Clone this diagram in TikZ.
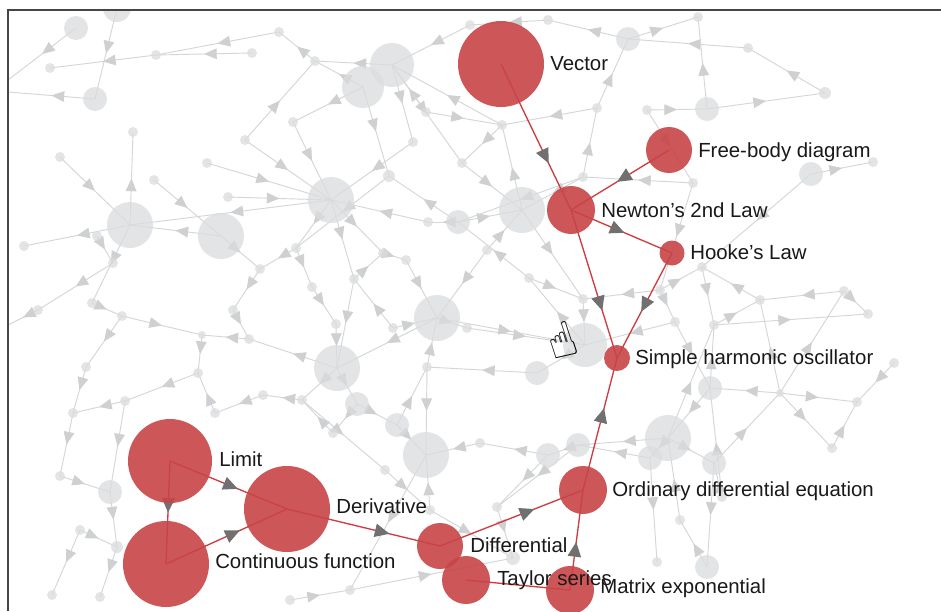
\documentclass[tikz,border=0pt]{standalone}
\usepackage{fontspec}
\setmainfont{Liberation Sans}
\newfontfamily\symfont{DejaVu Sans}
\usetikzlibrary{arrows.meta,decorations.markings}
\definecolor{rfill}{RGB}{200,68,72}
\definecolor{rline}{RGB}{206,60,64}
\definecolor{darr}{RGB}{112,112,112}
\definecolor{gline}{RGB}{212,214,216}
\definecolor{gfill}{RGB}{218,220,221}
\definecolor{garr}{RGB}{206,208,209}
\definecolor{txt}{RGB}{25,25,25}
\definecolor{framec}{RGB}{70,70,70}
\pgfdeclarelayer{gedges}\pgfdeclarelayer{gnodes}\pgfdeclarelayer{redges}
\pgfsetlayers{gedges,gnodes,redges,main}
\tikzset{
 gnode/.style={circle, fill=gfill, fill opacity=0.75, inner sep=0pt, draw=none},
 gedge/.style={draw=gline, line width=0.7pt, postaction={decorate},
   decoration={markings, mark=at position 0.5 with {\arrow{Triangle[length=9.5pt,width=8pt,color=garr]}}}},
 rnode/.style={circle, fill=rfill, fill opacity=0.9, inner sep=0pt, draw=none},
 redge/.style={draw=rline, line width=1pt},
 markat/.style={postaction={decorate},
   decoration={markings, mark=at position #1 with {\arrow{Triangle[length=11pt,width=10pt,color=darr]}}}},
 lbl/.style={anchor=base west, inner sep=0pt, text=txt, font=\fontsize{15.3pt}{18pt}\selectfont},
}
\begin{document}
\begin{tikzpicture}[x=0.75pt,y=-0.75pt]
\useasboundingbox (0,0) rectangle (941,611);
\begin{pgfonlayer}{gedges}
\fill[white] (0,0) rectangle (941,611);
\end{pgfonlayer}
% ---------- gray background network: nodes ----------
\begin{pgfonlayer}{gnodes}
\foreach \n/\x/\y/\r in {
 t1/76/28/12, t2/50/68/5, t3/95/99/12, t4/117/8/14, t5/156/55/5, t6/252/53/5, t7/279/32/5,
 t8/315/61/5, t9/133/132/5, t10/60/157/5, t11/245/140/5, t12/293/122/5, t13/207/163/5,
 t14/154/180/5, t15/228/197/5, t16/392/65/22, t17/363/87/21, t18/426/112/5, t19/413/142/5,
 t20/389/176/6, t21/462/163/5, t22/470/25/5, t23/331/200/23, t24/502/125/5, t25/548/20/5,
 t26/597/108/5, t27/647/110/5, t28/628/39/12, t29/698/17/5, t30/748/48/5, t31/707/109/12,
 t32/825/93/6, t33/811/174/12, t34/873/162/5, t35/693/183/5, t36/583/177/5, t37/522/210/23,
 t38/458/222/12, t39/428/222/5,
 m1/130/225/23, m2/221/236/23, m3/24/246/5, m4/97/236/5, m5/113/263/5, m6/38/310/5,
 m7/92/303/5, m8/122/316/5, m9/86/367/5, m10/125/401/5, m11/73/413/5, m12/198/373/5,
 m13/202/335/4, m14/249/339/5, m15/233/310/5, m16/260/269/5, m17/296/248/5, m18/312/287/5,
 m19/354/279/5, m20/383/253/5, m21/406/260/5, m22/336/324/5, m23/393/328/5, m24/437/318/23,
 m25/337/368/23, m26/357/404/12, m27/397/425/12, m28/302/400/5, m29/263/395/5, m30/215/413/5,
 m31/427/367/5, m32/467/328/5, m33/487/250/5, m34/529/278/5, m35/583/299/5, m36/585/345/22,
 m37/537/373/12, m38/426/455/23, m39/333/433/5,
 r1/660/290/5, r2/702/267/5, r3/760/300/5, r4/844/291/5, r5/868/314/5, r6/894/363/5,
 r7/780/393/4, r8/857/402/5, r9/832/448/5, r10/714/325/5, r11/675/322/5, r12/710/388/12,
 r13/668/438/23, r14/714/463/12, r15/650/458/12, r16/578/445/12, r17/548/455/12, r18/480/443/5,
 r19/497/507/5, r20/722/497/5, r21/680/520/5, r22/707/567/12, r23/657/562/5, r24/513/558/7,
 r25/430/510/5,
 b1/60/476/5, b2/110/492/12, b3/80/530/5, b4/117/547/6, b5/52/595/5, b6/100/597/5,
 b8/290/600/5, b9/350/590/5, b10/385/470/5}
 {\node[gnode, minimum size=\r*1.5pt] (\n) at (\x,\y) {};}
\end{pgfonlayer}
\coordinate (e1) at (8,80);
\coordinate (e2) at (8,92);
\coordinate (e4) at (8,325);
% ---------- gray background network: edges ----------
\begin{pgfonlayer}{gedges}
\foreach \a/\b in {
 t4/t3, t1/e1, t3/e2, t6/t5, t7/t5, t5/t2, t8/t7, t16/t8, t17/t8, t11/t8, t11/t23, t12/t23,
 t13/t23, t14/m2, m1/t9, t10/m1, t15/t23, t22/t16, t16/t19, t17/t20, t18/t16, t19/t23,
 t20/m17, t21/t37, t24/t16, t25/t22, t26/t28, t27/t31, t28/t29, t30/t28, t31/t32, t32/t30,
 t33/t34, t33/r2, t35/t36, t36/t37, t37/t24, t38/t39, t39/t23, t38/t37, t26/t24, t31/t29,
 t28/t25, t36/t38, t23/m1, m1/m3, m4/m5, m2/m1, m2/m16, m1/m7, m5/m6, m6/e4, m7/m8,
 m8/m9, m9/m11, m8/m13, m13/m12, m12/m10, m10/m11, m14/m13, m15/m14, m16/m15, m17/m16,
 m17/m18, m18/m22, m19/m20, m20/m21, m21/m24, m19/m25, m22/m25, m23/m24, m24/m25, m25/m14,
 m25/m28, m28/m29, m29/m30, m30/m12, m25/m26, m26/m27, m27/m38, m31/m24, m31/m38, m24/m32,
 m32/m36, m33/t37, m33/m24, m34/m35, m34/t38, m35/m36, m36/m37, m37/m31, t37/m35, m23/m19,
 m26/m39, m39/m28, t23/m17, t23/m19, t23/m20,
 r1/r2, r3/r2, r4/r3, r4/r5, r6/r8, r7/r4, r7/r3, r7/r8, r7/r12, r7/r9, r9/r8, r12/r10,
 r10/r3, r11/r12, r12/r13, r13/r15, r13/r14, r14/r7, r13/r16, r16/r17, r17/r18, r18/m38,
 r16/r19, r15/r23, r20/r14, r21/r13, r22/r21, r19/r24, r25/m38, r25/r24, r11/m36, r1/m35,
 t35/r1, r10/r5, r13/r10, r17/r19,
 b1/b2, b3/b4, m11/b1, b4/b6, b3/b5, b2/b4, m10/b2, m28/b10, b10/r25, b8/b9, b9/r24, m38/b9,
 t17/t12, t16/t21, t24/t21, t36/t26, t27/t35, r2/r10, r1/r11, m36/m34, r15/r16, r14/r22,
 r20/r12, m24/m36, t18/t24, t38/t20, m27/m31}
 {\draw[gedge] (\a.center) -- (\b.center);}
\end{pgfonlayer}
% ---------- white margins and frame ----------
\fill[white] (0,0) rectangle (941,9);
\fill[white] (0,0) rectangle (7,611);
\draw[framec, line width=1.3pt] (8,611) -- (8,10) -- (941,10);
% ---------- highlighted red nodes ----------
\node[rnode, minimum size=64.5pt] (vec) at (501,64) {};
\node[rnode, minimum size=34.5pt] (fbd) at (669,150) {};
\node[rnode, minimum size=36pt] (newt) at (571,210) {};
\node[rnode, minimum size=18.75pt] (hooke) at (672,253) {};
\node[rnode, minimum size=19.5pt] (sho) at (617,358) {};
\node[rnode, minimum size=36pt] (ode) at (583,490) {};
\node[rnode, minimum size=34.5pt] (diff) at (440,546) {};
\node[rnode, minimum size=36pt] (taylor) at (466,580) {};
\node[rnode, minimum size=36pt] (mexp) at (570,590) {};
\node[rnode, minimum size=63pt] (limit) at (170,461) {};
\node[rnode, minimum size=64.5pt] (cont) at (166,564) {};
\node[rnode, minimum size=64.5pt] (deriv) at (287,509) {};
% ---------- red edges ----------
\begin{pgfonlayer}{redges}
\draw[redge, markat=0.68] (vec.center) -- (newt.center);
\draw[redge, markat=0.53] (fbd.center) -- (newt.center);
\draw[redge, markat=0.53] (newt.center) -- (hooke.center);
\draw[redge, markat=0.68] (newt.center) -- (sho.center);
\draw[redge, markat=0.56] (hooke.center) -- (sho.center);
\draw[redge, markat=0.62] (ode.center) -- (sho.center);
\draw[redge, markat=0.66] (diff.center) -- (ode.center);
\draw[redge, markat=0.48] (mexp.center) -- (ode.center);
\draw[redge] (taylor.center) -- (mexp.center);
\draw[redge, markat=0.67] (deriv.center) -- (diff.center);
\draw[redge, markat=0.58] (limit.center) -- (deriv.center);
\draw[redge, markat=0.5] (limit.center) -- (cont.center);
\draw[redge, markat=0.61] (cont.center) -- (deriv.center);
\end{pgfonlayer}
% ---------- labels ----------
\node[lbl] (lvec) at (550,70) {Vector};
\node[lbl] (lfbd) at (698,157) {Free-body diagram};
\node[lbl] (lnewt) at (601,217) {Newton's 2nd Law};
\node[lbl] (lhooke) at (690,259) {Hooke's Law};
\node[lbl] (lsho) at (635,364) {Simple harmonic oscillator};
\node[lbl] (lode) at (612,496) {Ordinary differential equation};
\node[lbl] (ldiff) at (470,552) {Differential};
\node[lbl] (ltaylor) at (497,585) {Taylor series};
\node[lbl] (lmexp) at (600,593) {Matrix exponential};
\node[lbl] (llimit) at (219,466) {Limit};
\node[lbl] (lderiv) at (336,513) {Derivative};
\node[lbl] (lcont) at (215,568) {Continuous function};
% ---------- cursor ----------
\node[rotate=18, inner sep=0pt, text=black, font=\symfont\fontsize{36pt}{36pt}\selectfont] (hand) at (562,340) {☝};
\end{tikzpicture}
\end{document}
